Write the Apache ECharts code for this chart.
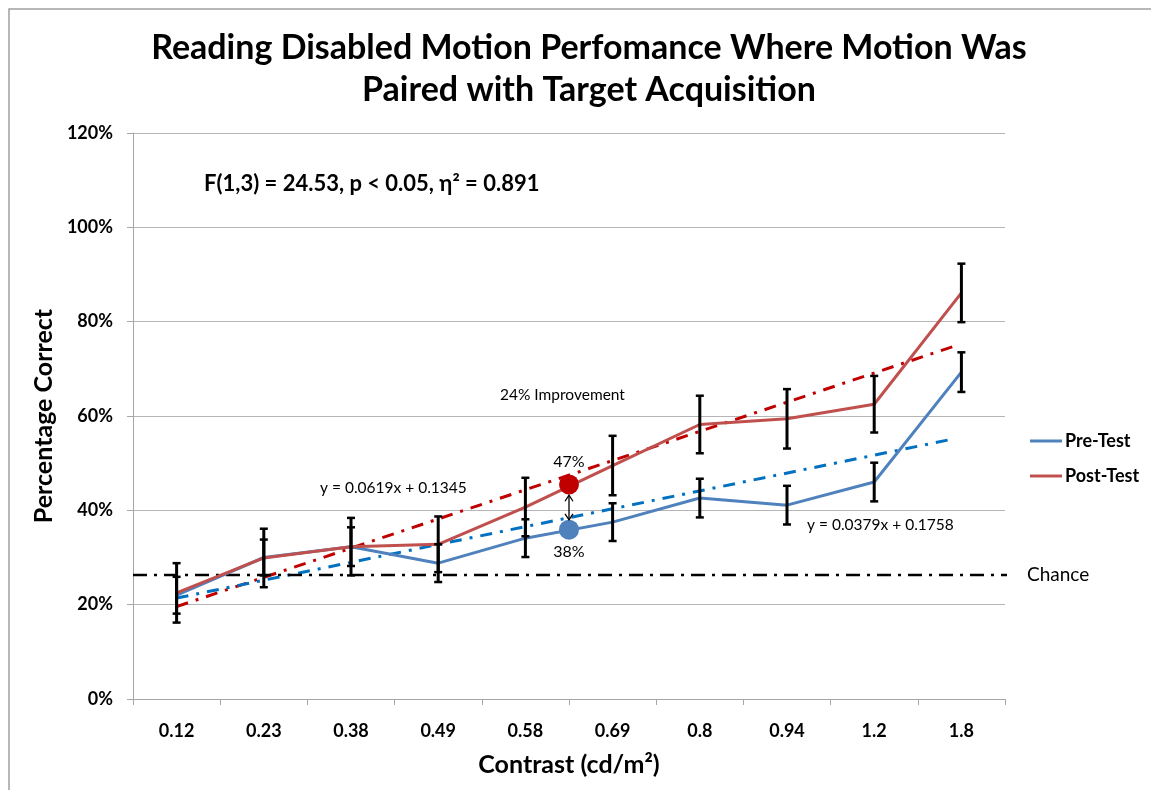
<!DOCTYPE html>
<html>
<head>
<meta charset="utf-8">
<script src="https://cdn.jsdelivr.net/npm/echarts@6/dist/echarts.min.js"></script>
<style>
html,body{margin:0;padding:0;background:#fff;}
#c{width:1151px;height:790px;}
</style>
</head>
<body>
<div id="c"></div>
<script>
// ---- data ----
const categories = ['0.12','0.23','0.38','0.49','0.58','0.69','0.8','0.94','1.2','1.8'];
const preTest  = [22.0, 30.0, 32.3, 28.8, 34.1, 37.5, 42.6, 41.1, 46.0, 69.3];
const postTest = [22.5, 29.9, 32.3, 32.8, 40.7, 49.5, 58.2, 59.4, 62.5, 86.1];
const preErr   = [3.9, 3.8, 4.1, 4.0, 4.0, 4.0, 4.1, 4.1, 4.1, 4.2];
const postErr  = [6.3, 6.2, 6.1, 5.9, 6.2, 6.3, 6.1, 6.3, 6.0, 6.2];
// trendline endpoints (category index, value)
const preTrendX  = [0, 8.9];
const preTrendY  = [21.4, 55.1];
const postTrendX = [0, 8.95];
const postTrendY = [19.6, 75.0];
const chanceValue = 26.3;
const chanceX = [-0.5, 9.68];
// highlighted points midway between 0.58 and 0.69
const dotX = 4.5;
const dotValues = [45.5, 35.9];
const dotLabels = ['47%', '38%'];
const arrowY = [43.2, 38.0];
const yTicks = [0, 20, 40, 60, 80, 100, 120];

const FONT = 'Lato, "Open Sans", sans-serif';
const chart = echarts.init(document.getElementById('c'));

function errItem(params, api) {
  const x = api.value(0);
  const lo = api.coord([x, api.value(1)]);
  const hi = api.coord([x, api.value(2)]);
  const cw = 4;
  return {type: 'group', children: [
    {type: 'line', shape: {x1: lo[0], y1: lo[1], x2: hi[0], y2: hi[1]}, style: {stroke: '#000', lineWidth: 3}},
    {type: 'line', shape: {x1: lo[0]-cw, y1: lo[1], x2: lo[0]+cw, y2: lo[1]}, style: {stroke:'#000', lineWidth: 2.5}},
    {type: 'line', shape: {x1: hi[0]-cw, y1: hi[1], x2: hi[0]+cw, y2: hi[1]}, style: {stroke:'#000', lineWidth: 2.5}}
  ]};
}

const preErrData = categories.map((c, i) => [i, preTest[i] - preErr[i], preTest[i] + preErr[i]]);
const postErrData = categories.map((c, i) => [i, postTest[i] - postErr[i], postTest[i] + postErr[i]]);

const option = {
  animation: false,
  backgroundColor: '#fff',
  title: {
    text: 'Reading Disabled Motion Perfomance Where Motion Was\nPaired with Target Acquisition',
    left: 584, textAlign: 'center', top: 22,
    textStyle: {fontFamily: FONT, fontWeight: 'bold', fontSize: 34, lineHeight: 42, color: '#000'}
  },
  legend: {
    data: ['Pre-Test', 'Post-Test'],
    orient: 'vertical', left: 1025, top: 427, itemGap: 17,
    icon: 'rect', itemWidth: 32, itemHeight: 3,
    textStyle: {fontFamily: FONT, fontWeight: 'bold', fontSize: 18, color: '#000', padding: [0, 0, 0, -2]}
  },
  grid: {left: 133, right: 146, top: 133, bottom: 91, containLabel: false},
  xAxis: [
    {
      type: 'category', data: categories, boundaryGap: true,
      axisLine: {lineStyle: {color: '#a6a6a6', width: 1}},
      axisTick: {show: true, length: 6, lineStyle: {color: '#a6a6a6'}},
      axisLabel: {fontFamily: FONT, fontWeight: 'bold', fontSize: 18, color: '#000', margin: 23},
      name: 'Contrast (cd/m²)', nameLocation: 'middle', nameGap: 53,
      nameTextStyle: {fontFamily: FONT, fontWeight: 'bold', fontSize: 25, color: '#000'}
    },
    {type: 'value', min: -0.5, max: 9.5, show: false}
  ],
  yAxis: {
    type: 'value', min: yTicks[0], max: yTicks[yTicks.length-1], interval: 20,
    axisLine: {show: true, onZero: false, lineStyle: {color: '#a6a6a6'}},
    axisTick: {show: true, length: 6, lineStyle: {color: '#a6a6a6'}},
    axisLabel: {formatter: '{value}%', fontFamily: FONT, fontWeight: 'bold', fontSize: 18, color: '#000', margin: 20},
    splitLine: {lineStyle: {color: '#b5b5b5', width: 1}},
    name: 'Percentage Correct', nameLocation: 'middle', nameGap: 73,
    nameTextStyle: {fontFamily: FONT, fontWeight: 'bold', fontSize: 25, color: '#000'}
  },
  series: [
    {
      name: 'Chance', type: 'line', xAxisIndex: 1, clip: false, symbol: 'none', silent: true,
      data: chanceX.map(x => [x, chanceValue]),
      lineStyle: {color: '#000', width: 2.5, type: [14, 7, 3, 7]},
      endLabel: {show: true, formatter: 'Chance', fontFamily: FONT, fontSize: 19, color: '#000', distance: 20},
      z: 3
    },
    {
      name: 'PostTrend', type: 'line', xAxisIndex: 1, symbol: 'none', silent: true,
      data: postTrendX.map((x, i) => [x, postTrendY[i]]),
      lineStyle: {color: '#c00000', width: 3, type: [12, 8, 3, 8]}, z: 2
    },
    {
      name: 'PreTrend', type: 'line', xAxisIndex: 1, symbol: 'none', silent: true,
      data: preTrendX.map((x, i) => [x, preTrendY[i]]),
      lineStyle: {color: '#0070c0', width: 3, type: [12, 8, 3, 8]}, z: 2
    },
    {
      name: 'Pre-Test', type: 'line', data: preTest, symbol: 'none', color: '#4f81bd',
      lineStyle: {color: '#4f81bd', width: 3}, z: 4
    },
    {
      name: 'Post-Test', type: 'line', data: postTest, symbol: 'none', color: '#c0504d',
      lineStyle: {color: '#c0504d', width: 3}, z: 5
    },
    {
      name: 'PreErr', type: 'custom', renderItem: errItem, data: preErrData, z: 6,
      encode: {x: 0, y: [1, 2]}
    },
    {
      name: 'PostErr', type: 'custom', renderItem: errItem, data: postErrData, z: 6,
      encode: {x: 0, y: [1, 2]}
    },
    {
      name: 'Dots', type: 'scatter', xAxisIndex: 1, symbolSize: 20, z: 8,
      emphasis: {disabled: true},
      data: [
        {value: [dotX, dotValues[0]], itemStyle: {color: '#c00000', opacity: 1},
         label: {show: true, position: 'top', formatter: dotLabels[0], distance: 5}},
        {value: [dotX, dotValues[1]], itemStyle: {color: '#4f81bd', opacity: 1},
         label: {show: true, position: 'bottom', formatter: dotLabels[1], distance: 4}}
      ],
      label: {fontFamily: FONT, fontSize: 16, color: '#000'}
    },
    {
      name: 'Arrow', type: 'custom', xAxisIndex: 1, z: 9,
      data: [[dotX, arrowY[0], arrowY[1]]],
      encode: {x: 0, y: [1, 2]},
      renderItem: function (params, api) {
        const top = api.coord([api.value(0), api.value(1)]);
        const bot = api.coord([api.value(0), api.value(2)]);
        const s = {stroke: '#000', lineWidth: 1.3, fill: null};
        return {type: 'group', children: [
          {type: 'line', shape: {x1: top[0], y1: top[1], x2: bot[0], y2: bot[1]}, style: s},
          {type: 'polyline', shape: {points: [[top[0]-4, top[1]+6], [top[0], top[1]], [top[0]+4, top[1]+6]]}, style: s},
          {type: 'polyline', shape: {points: [[bot[0]-4, bot[1]-6], [bot[0], bot[1]], [bot[0]+4, bot[1]-6]]}, style: s}
        ]};
      }
    }
  ],
  graphic: [
    {type: 'rect', shape: {x: 9, y: 9, width: 1200, height: 900}, style: {fill: null, stroke: '#a0a0a0', lineWidth: 1.5}, silent: true},
    {type: 'text', left: 204, top: 173, style: {text: 'F(1,3) = 24.53, p < 0.05, η² = 0.891', font: 'bold 22px ' + FONT, fill: '#000'}},
    {type: 'text', left: 500, top: 387, style: {text: '24% Improvement', font: '15.5px ' + FONT, fill: '#000'}},
    {type: 'text', left: 320, top: 480, style: {text: 'y = 0.0619x + 0.1345', font: '15.5px ' + FONT, fill: '#000'}},
    {type: 'text', left: 807, top: 517, style: {text: 'y = 0.0379x + 0.1758', font: '15.5px ' + FONT, fill: '#000'}}
  ]
};
chart.setOption(option);
</script>
</body>
</html>
